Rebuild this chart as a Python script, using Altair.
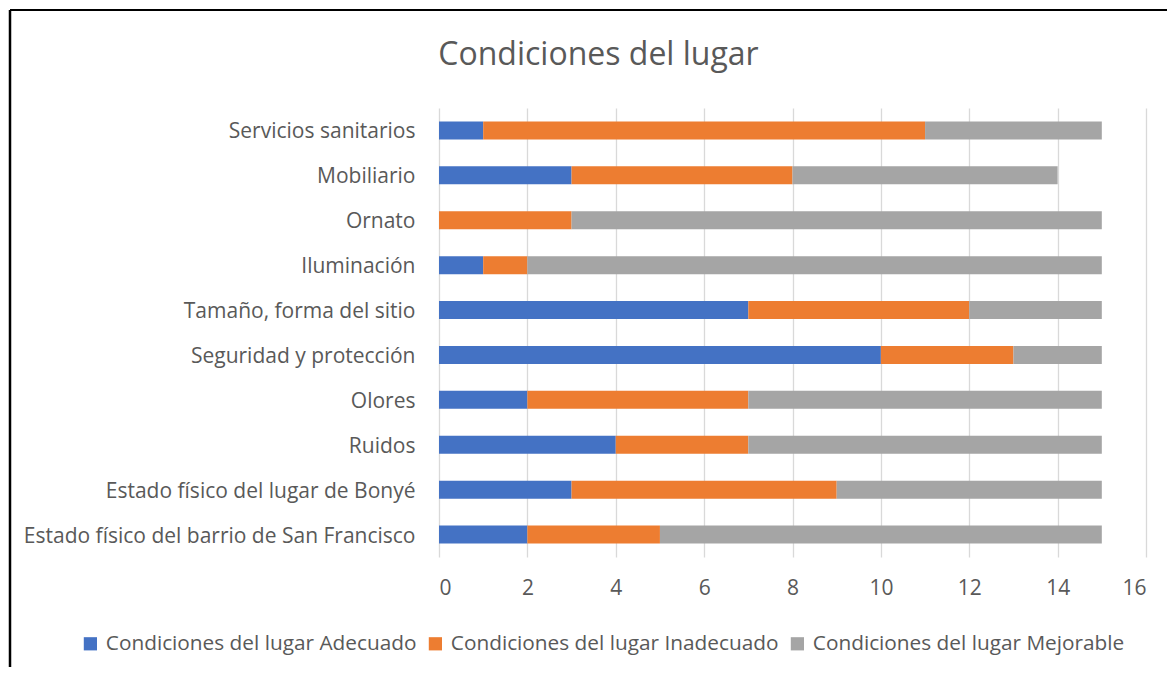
import altair as alt
import pandas as pd

categories = [
    "Servicios sanitarios",
    "Mobiliario",
    "Ornato",
    "Iluminación",
    "Tamaño, forma del sitio",
    "Seguridad y protección",
    "Olores",
    "Ruidos",
    "Estado físico del lugar de Bonyé",
    "Estado físico del barrio de San Francisco",
]
adecuado = [1, 3, 0, 1, 7, 10, 2, 4, 3, 2]
inadecuado = [10, 5, 3, 1, 5, 3, 5, 3, 6, 3]
mejorable = [4, 6, 12, 13, 3, 2, 8, 8, 6, 10]

series = [
    "Condiciones del lugar Adecuado",
    "Condiciones del lugar Inadecuado",
    "Condiciones del lugar Mejorable",
]
colors = ["#4472C4", "#ED7D31", "#A5A5A5"]

rows = []
for i, c in enumerate(categories):
    for k, (s, vals) in enumerate(zip(series, [adecuado, inadecuado, mejorable])):
        rows.append({"cat": c, "serie": s, "valor": vals[i], "orden": k})
df = pd.DataFrame(rows)

FONT = "Open Sans"
TXT = "#595959"
FS = 21

bars = alt.Chart(df).mark_bar(size=18).encode(
    y=alt.Y("cat:N", sort=categories, title=None,
            scale=alt.Scale(paddingInner=0, paddingOuter=0),
            axis=alt.Axis(domain=False, ticks=False, grid=False, labelPadding=24,
                          labelOffset=2,
                          labelFontSize=FS, labelColor=TXT, labelFont=FONT, labelLimit=500)),
    x=alt.X("valor:Q", stack="zero", title=None,
            scale=alt.Scale(domain=[0, 16], nice=False),
            axis=alt.Axis(values=list(range(0, 17, 2)), domain=False, ticks=False,
                          grid=True, gridColor="#D9D9D9", gridWidth=1.3,
                          labelPadding=20, labelFontSize=FS, labelColor=TXT, labelFont=FONT)),
    color=alt.Color("serie:N", sort=series,
                    scale=alt.Scale(domain=series, range=colors),
                    legend=alt.Legend(title=None, orient="none", direction="horizontal",
                                      legendX=-359, legendY=525,
                                      symbolType="square", symbolSize=175,
                                      symbolStrokeWidth=0, labelFontSize=20.8,
                                      labelColor=TXT, labelFont=FONT, labelOffset=5,
                                      columnPadding=8, labelLimit=500)),
    order=alt.Order("orden:Q"),
)

one = alt.Chart(pd.DataFrame({"a": [0]}))
top_line = one.mark_rule(color="#000000", strokeWidth=2).encode(
    x=alt.value(-429), x2=alt.value(760), y=alt.value(-98))
left_line = one.mark_rule(color="#000000", strokeWidth=2.5).encode(
    x=alt.value(-429), y=alt.value(-98), y2=alt.value(580))

chart = alt.layer(bars, top_line, left_line).properties(
    width=707, height=449,
    title=alt.TitleParams("Condiciones del lugar", fontSize=32, font=FONT, color=TXT,
                          fontWeight="normal", anchor="middle", dx=-194,
                          baseline="alphabetic", offset=-88),
    autosize=alt.AutoSizeParams(type="none"),
    padding={"left": 431, "top": 100, "right": 21, "bottom": 110},
).configure_view(stroke=None)

chart.save("out.html", embed_options={"renderer": "svg", "actions": False})
